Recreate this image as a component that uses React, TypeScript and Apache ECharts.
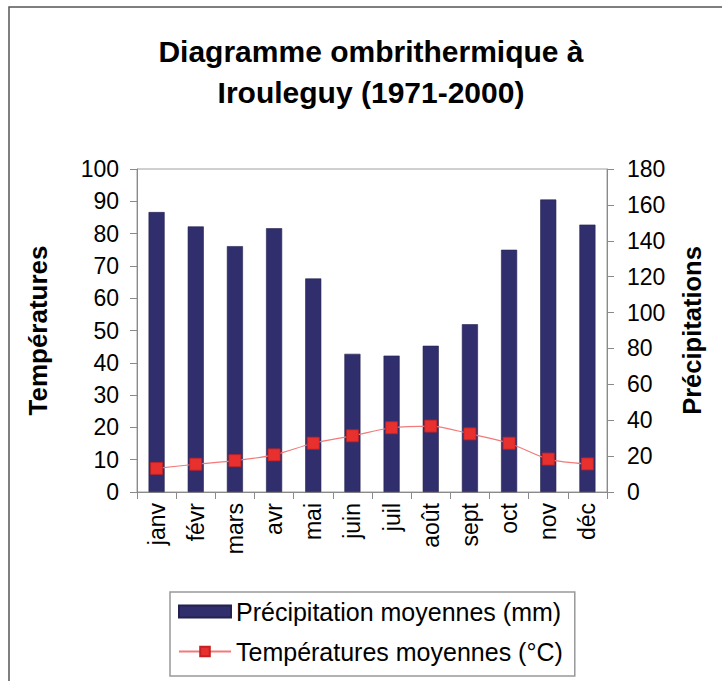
import React, { useEffect, useRef } from "react";
import * as echarts from "echarts";

const months = ["janv", "févr", "mars", "avr", "mai", "juin", "juil", "août", "sept", "oct", "nov", "déc"];
const precipitation = [156, 148, 137, 147, 119, 77, 76, 81.5, 93.5, 135, 163, 149];
const temperature = [7.3, 8.6, 9.7, 11.5, 15.1, 17.4, 19.9, 20.4, 18.0, 15.1, 10.2, 8.7];
const titleText = "Diagramme ombrithermique à\nIrouleguy (1971-2000)";
const precipName = "Précipitation moyennes (mm)";
const tempName = "Températures moyennes (°C)";

const FONT = "'Liberation Sans', Arial, sans-serif";

export default function App() {
  const ref = useRef<HTMLDivElement>(null);
  useEffect(() => {
    if (!ref.current) return;
    const chart = echarts.init(ref.current, null, { renderer: "svg" });
    const axisLine = { show: true, lineStyle: { color: "#8a8a8a", width: 1 } };
    const axisTick = { show: true, length: 7, lineStyle: { color: "#8a8a8a" } };
    chart.setOption({
      animation: false,
      backgroundColor: "#fff",
      textStyle: { fontFamily: FONT },
      title: {
        text: titleText,
        left: 371,
        textAlign: "center",
        top: 31,
        padding: 0,
        textStyle: { fontFamily: FONT, fontSize: 30, fontWeight: "bold", color: "#000", lineHeight: 41 },
      },
      graphic: [
        {
          type: "rect",
          shape: { x: 9, y: 7, width: 900, height: 900 },
          style: { fill: "none", stroke: "#555", lineWidth: 1.5 },
          silent: true,
        },
      ],
      legend: {
        orient: "vertical",
        left: 170,
        top: 592,
        padding: [7, 12, 12, 8],
        itemGap: 15,
        itemWidth: 52,
        itemHeight: 12,
        borderColor: "#999",
        borderWidth: 1.5,
        textStyle: { fontFamily: FONT, fontSize: 25, color: "#000" },
        data: [
          { name: precipName, icon: "rect" },
          { name: tempName },
        ],
      },
      grid: {
        left: 137,
        right: 115,
        top: 169,
        bottom: 189,
        show: true,
        borderColor: "#a0a0a0",
        borderWidth: 1,
      },
      xAxis: {
        type: "category",
        data: months,
        boundaryGap: true,
        axisLine,
        axisTick: { ...axisTick, alignWithLabel: false },
        axisLabel: { rotate: 90, fontSize: 23, color: "#000", margin: 11, fontFamily: FONT },
      },
      yAxis: [
        {
          type: "value",
          min: 0,
          max: 100,
          interval: 10,
          position: "left",
          name: "Températures",
          nameLocation: "middle",
          nameGap: 86,
          nameRotate: 90,
          nameTextStyle: { fontFamily: FONT, fontSize: 26, fontWeight: "bold", color: "#000" },
          axisLine,
          axisTick,
          splitLine: { show: false },
          axisLabel: { fontSize: 23, color: "#000", margin: 18, fontFamily: FONT },
        },
        {
          type: "value",
          min: 0,
          max: 180,
          interval: 20,
          position: "right",
          name: "Précipitations",
          nameLocation: "middle",
          nameGap: 72,
          nameRotate: 90,
          nameTextStyle: { fontFamily: FONT, fontSize: 25.5, fontWeight: "bold", color: "#000" },
          axisLine,
          axisTick,
          splitLine: { show: false },
          axisLabel: { fontSize: 23, color: "#000", margin: 20, fontFamily: FONT },
        },
      ],
      series: [
        {
          name: precipName,
          type: "bar",
          yAxisIndex: 1,
          data: precipitation,
          barWidth: "41%",
          itemStyle: { color: "#312e6d", borderColor: "#24214f", borderWidth: 0.6 },
        },
        {
          name: tempName,
          type: "line",
          yAxisIndex: 0,
          data: temperature,
          smooth: 0.3,
          symbol: "rect",
          symbolSize: 12,
          lineStyle: { color: "#f27a7a", width: 1.2 },
          itemStyle: { color: "#e8302f", borderColor: "#c42222", borderWidth: 0.8 },
          z: 5,
        },
      ],
    });
    return () => chart.dispose();
  }, []);
  return (
    <div
      ref={ref}
      style={{ position: "fixed", left: 0, top: 0, width: 722, height: 681, background: "#fff" }}
    />
  );
}
